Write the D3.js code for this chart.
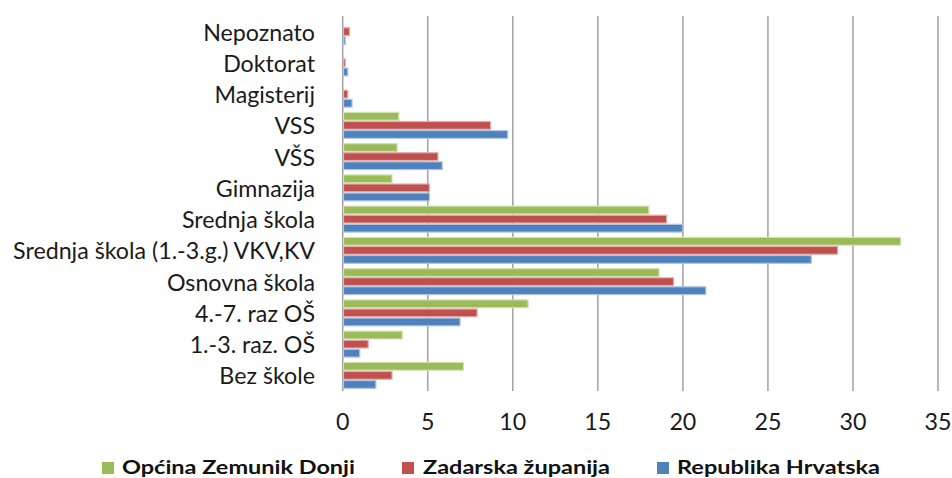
<!DOCTYPE html>
<html><head><meta charset="utf-8">
<script src="https://cdn.jsdelivr.net/npm/d3@7"></script>
<style>body{margin:0;background:#fff;overflow:hidden}</style>
</head><body>
<svg id="c" width="952" height="478"></svg>
<script>
const categories = ["Nepoznato","Doktorat","Magisterij","VSS","VŠS","Gimnazija","Srednja škola","Srednja škola (1.-3.g.) VKV,KV","Osnovna škola","4.-7. raz OŠ","1.-3. raz. OŠ","Bez škole"];
const seriesNames = ["Općina Zemunik Donji","Zadarska županija","Republika Hrvatska"];
const zemunik  = [0, 0, 0, 3.3, 3.2, 2.9, 18.0, 32.8, 18.6, 10.9, 3.5, 7.1];
const zadarska = [0.4, 0.15, 0.3, 8.7, 5.6, 5.1, 19.05, 29.1, 19.45, 7.9, 1.5, 2.9];
const hrvatska = [0.15, 0.3, 0.55, 9.7, 5.85, 5.1, 20.0, 27.55, 21.35, 6.9, 1.0, 1.95];
const xTicks = [0, 5, 10, 15, 20, 25, 30, 35];
const colors = ["#9bbb59", "#c0504d", "#4f81bd"];

const seriesValues = [zemunik, zadarska, hrvatska];
const FONT = "Lato, 'Open Sans', sans-serif";
const svg = d3.select("#c");

const x = d3.scaleLinear().domain([0, 35]).range([342.7, 938]);
const y = d3.scaleBand().domain(categories).range([16, 391]).paddingInner(0.17).paddingOuter(0.085);
const ySub = d3.scaleBand().domain(d3.range(3)).range([0, y.bandwidth()]).paddingInner(0.14);

// gridlines
svg.append("g").selectAll("line").data(xTicks).join("line")
  .attr("x1", d => x(d)).attr("x2", d => x(d))
  .attr("y1", 16).attr("y2", 391)
  .attr("stroke", "#a6a6a6").attr("stroke-width", 1.6);

// bars
const rows = categories.map((c, i) => ({c, vals: seriesValues.map(s => s[i])}));
const g = svg.append("g").selectAll("g").data(rows).join("g")
  .attr("transform", d => `translate(0,${y(d.c)})`);
g.selectAll("rect").data(d => d.vals.map((v, k) => ({v, k}))).join("rect")
  .attr("x", x(0) + 0.8)
  .attr("y", d => ySub(d.k))
  .attr("width", d => Math.max(0, x(d.v) - x(0) - 0.8))
  .attr("height", ySub.bandwidth())
  .attr("fill", d => colors[d.k])
  .attr("stroke", d => d3.interpolateRgb(colors[d.k], "#ffffff")(0.55))
  .attr("stroke-width", d => d.v > 0 ? 1.2 : 0);

// y labels
const yl = svg.append("g").selectAll("text").data(categories).join("text")
  .attr("x", 315).attr("y", d => y(d) + y.bandwidth() / 2)
  .attr("text-anchor", "end").attr("dominant-baseline", "central")
  .attr("font-family", FONT).attr("fill", "#1a1a1a")
  .attr("font-size", 20).text(d => d);
let longest = yl.filter(d => d === "Srednja škola (1.-3.g.) VKV,KV").node();
let fs = 20 * 302 / longest.getComputedTextLength();
yl.attr("font-size", fs);

// x tick labels
svg.append("g").selectAll("text").data(xTicks).join("text")
  .attr("x", d => x(d)).attr("y", 421)
  .attr("text-anchor", "middle").attr("dominant-baseline", "central")
  .attr("font-family", FONT).attr("fill", "#1a1a1a").attr("font-size", fs)
  .text(d => d3.format("d")(d));

// legend
const legX = [102, 402, 657];
const legTX = [122, 423, 677];
const legW = [233, 187, 203];
const leg = svg.append("g").selectAll("g").data(seriesNames).join("g");
leg.append("rect").attr("x", (d, i) => legX[i]).attr("y", 462)
  .attr("width", 12).attr("height", 12).attr("fill", (d, i) => colors[i]);
leg.append("text").attr("x", (d, i) => legTX[i]).attr("y", 474)
  .attr("font-family", FONT)
  .attr("font-weight", "bold").attr("fill", "#111").attr("font-size", 19.5)
  .attr("textLength", (d, i) => legW[i]).attr("lengthAdjust", "spacingAndGlyphs")
  .text(d => d);
</script>
</body></html>
